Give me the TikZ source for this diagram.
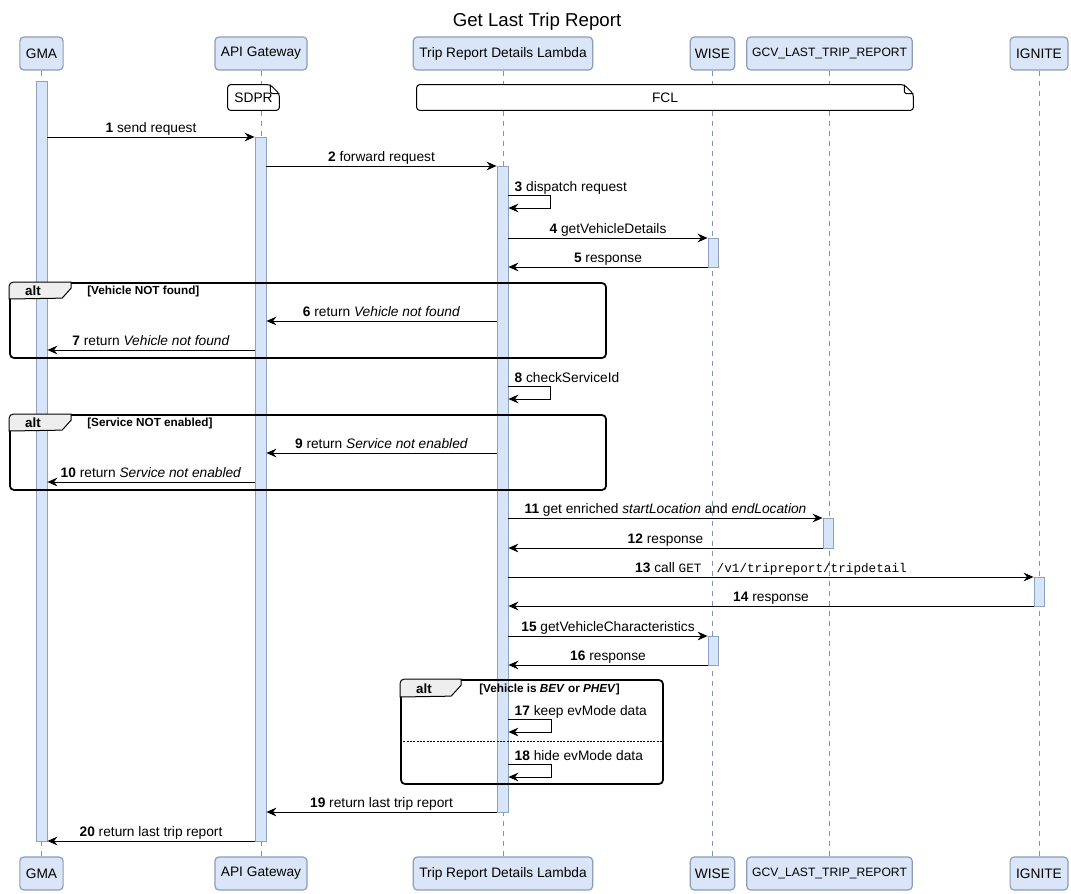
\documentclass[tikz,border=0pt]{standalone}
\usepackage{fontspec}
\setmainfont{Liberation Sans}
\newfontfamily\codefont{Liberation Mono}
\usetikzlibrary{arrows.meta,positioning,calc,fit}
\definecolor{PartFill}{HTML}{DAE6F8}
\definecolor{PartEdge}{HTML}{8C9DB5}
\definecolor{Life}{HTML}{7C96BA}
\definecolor{ActFill}{HTML}{D7E5F8}
\definecolor{ActEdge}{HTML}{8DA2C2}
\definecolor{TabFill}{HTML}{EEEEEE}

\begin{document}
\begin{tikzpicture}[
    x=0.75pt,y=-0.75pt,
    font=\fontsize{10.3}{12}\selectfont,
    part/.style={rounded corners=3pt,draw=PartEdge,fill=PartFill,line width=0.9pt,
      minimum height=24.75pt,inner xsep=4.5pt},
    narrow/.style={font=\fontsize{9.1}{11}\selectfont,inner xsep=4pt},
    life/.style={draw=Life,dash pattern=on 3.75pt off 3.75pt,line width=0.6pt},
    act/.style={draw=ActEdge,fill=ActFill,inner sep=0pt,line width=0.6pt},
    msg/.style={-{Stealth[length=7.5pt,width=6.5pt,inset=2.5pt]},line width=0.75pt},
    lbl/.style={anchor=base,yshift=3.5pt,inner sep=0pt},
    selflbl/.style={anchor=base west,xshift=4.5pt,yshift=3pt,inner sep=0pt},
    frame/.style={draw,rounded corners=3pt,line width=1.3pt,inner sep=0pt},
    tab/.style={draw,fill=TabFill,line width=0.75pt},
    alttag/.style={font=\fontsize{10}{11}\selectfont\bfseries},
    cond/.style={font=\fontsize{8.8}{10}\selectfont\bfseries,anchor=west,inner sep=0pt},
    notebox/.style={fill=white,inner sep=0pt},
    notepen/.style={draw,line width=0.75pt,rounded corners=2pt}
  ]
    \useasboundingbox (0,0) rectangle (1071,893);
    \node[font=\fontsize{14}{16}\selectfont] (title) at (537,22) {Get Last Trip Report};

    \node[part] (gmaTop) at (41.5,53.5) {GMA};
    \node[part] (apiTop) at (261,53.5) {API Gateway};
    \node[part] (lambdaTop) at (503,53.5) {Trip Report Details Lambda};
    \node[part,inner xsep=3.5pt] (wiseTop) at (712.5,53.5) {WISE};
    \node[part,narrow] (gcvTop) at (829.5,53.5) {GCV\_LAST\_TRIP\_REPORT};
    \node[part] (igniteTop) at (1039,53.5) {IGNITE};
    \node[part] (gmaBot) at (41.5,873.5) {GMA};
    \node[part] (apiBot) at (261,873.5) {API Gateway};
    \node[part] (lambdaBot) at (503,873.5) {Trip Report Details Lambda};
    \node[part,inner xsep=3.5pt] (wiseBot) at (712.5,873.5) {WISE};
    \node[part,narrow] (gcvBot) at (829.5,873.5) {GCV\_LAST\_TRIP\_REPORT};
    \node[part] (igniteBot) at (1039,873.5) {IGNITE};

    \draw[life] (gmaTop) -- (gmaBot);
    \draw[life] (apiTop) -- (apiBot);
    \draw[life] (lambdaTop) -- (lambdaBot);
    \draw[life] (wiseTop) -- (wiseBot);
    \draw[life] (gcvTop) -- (gcvBot);
    \draw[life] (igniteTop) -- (igniteBot);

    \node[notebox,minimum width=38.25pt,minimum height=18.75pt] (sdpr) at (253.5,97.5) {SDPR};
    \draw[notepen] ($(sdpr.north east)+(-9,0)$) -- (sdpr.north west) -- (sdpr.south west)
      -- (sdpr.south east) -- ($(sdpr.north east)+(0,9)$) -- cycle;
    \draw[notepen] ($(sdpr.north east)+(-9,0)$) -- ($(sdpr.north east)+(-9,9)$)
      -- ($(sdpr.north east)+(0,9)$);
    \node[notebox,minimum width=372pt,minimum height=18.75pt] (fcl) at (665,97.5) {FCL};
    \draw[notepen] ($(fcl.north east)+(-9,0)$) -- (fcl.north west) -- (fcl.south west)
      -- (fcl.south east) -- ($(fcl.north east)+(0,9)$) -- cycle;
    \draw[notepen] ($(fcl.north east)+(-9,0)$) -- ($(fcl.north east)+(-9,9)$)
      -- ($(fcl.north east)+(0,9)$);

    \node[act,fit={(36,81) (47,841)}] (aGma) {};
    \node[act,fit={(255,137) (266,841)}] (aApi) {};
    \node[act,fit={(497,166) (508,812)}] (aLambda) {};
    \node[act,fit={(708,238) (718,267)}] (aWise) {};
    \node[act,fit={(823,518) (833,548)}] (aGcv) {};
    \node[act,fit={(1034,577) (1044,606)}] (aIgnite) {};
    \node[act,fit={(708,636) (718,665)}] (aWise2) {};

    \draw[msg] (aGma.east |- 0,137) -- node[lbl] {\textbf{1} send request} (aApi.west |- 0,137);
    \draw[msg] (aApi.east |- 0,166) -- node[lbl] {\textbf{2} forward request} (aLambda.west |- 0,166);
    \draw[msg] (aLambda.east |- 0,195) -- ++(42,0) -- ++(0,13) -- (aLambda.east |- 0,208);
    \node[selflbl] (m3) at (aLambda.east |- 0,195) {\textbf{3} dispatch request};
    \draw[msg] (aLambda.east |- 0,238) -- node[lbl] {\textbf{4} getVehicleDetails} (aWise.west |- 0,238);
    \draw[msg] (aWise.west |- 0,267) -- node[lbl] {\textbf{5} response} (aLambda.east |- 0,267);
    \draw[msg] (aLambda.west |- 0,321) -- node[lbl] {\textbf{6} return \textit{Vehicle not found}} (aApi.east |- 0,321);
    \draw[msg] (aApi.west |- 0,350) -- node[lbl] {\textbf{7} return \textit{Vehicle not found}} (aGma.east |- 0,350);
    \draw[msg] (aLambda.east |- 0,386) -- ++(42,0) -- ++(0,13) -- (aLambda.east |- 0,399);
    \node[selflbl] (m8) at (aLambda.east |- 0,386) {\textbf{8} checkServiceId};
    \draw[msg] (aLambda.west |- 0,453) -- node[lbl] {\textbf{9} return \textit{Service not enabled}} (aApi.east |- 0,453);
    \draw[msg] (aApi.west |- 0,482) -- node[lbl] {\textbf{10} return \textit{Service not enabled}} (aGma.east |- 0,482);
    \draw[msg] (aLambda.east |- 0,518) -- node[lbl] {\textbf{11} get enriched \textit{startLocation} and \textit{endLocation}} (aGcv.west |- 0,518);
    \draw[msg] (aGcv.west |- 0,548) -- node[lbl] {\textbf{12} response} (aLambda.east |- 0,548);
    \draw[msg] (aLambda.east |- 0,577) -- node[lbl] {\textbf{13} call {\codefont\fontsize{9.5}{11}\selectfont GET\ \ /v1/tripreport/tripdetail}} (aIgnite.west |- 0,577);
    \draw[msg] (aIgnite.west |- 0,606) -- node[lbl] {\textbf{14} response} (aLambda.east |- 0,606);
    \draw[msg] (aLambda.east |- 0,636) -- node[lbl] {\textbf{15} getVehicleCharacteristics} (aWise2.west |- 0,636);
    \draw[msg] (aWise2.west |- 0,665) -- node[lbl] {\textbf{16} response} (aLambda.east |- 0,665);
    \draw[msg] (aLambda.east |- 0,719) -- ++(43,0) -- ++(0,13) -- (aLambda.east |- 0,732);
    \node[selflbl] (m17) at (aLambda.east |- 0,719) {\textbf{17} keep evMode data};
    \draw[msg] (aLambda.east |- 0,764) -- ++(43,0) -- ++(0,13) -- (aLambda.east |- 0,777);
    \node[selflbl] (m18) at (aLambda.east |- 0,764) {\textbf{18} hide evMode data};
    \draw[msg] (aLambda.west |- 0,812) -- node[lbl] {\textbf{19} return last trip report} (aApi.east |- 0,812);
    \draw[msg] (aApi.west |- 0,841) -- node[lbl] {\textbf{20} return last trip report} (aGma.east |- 0,841);

    \node[frame,fit={(10,283) (606,358)}] (alt1) {};
    \draw[tab] (alt1.west |- 0,299) [rounded corners=3pt] -- (alt1.north west) [sharp corners]
      -- ++(62,0) -- ++(0,6) -- ++(-9,10) -- cycle;
    \node[alttag] (alt1tag) at (33,291) {alt};
    \node[cond] (alt1cond) at (87,291) {[Vehicle NOT found]};

    \node[frame,fit={(10,415) (606,490)}] (alt2) {};
    \draw[tab] (alt2.west |- 0,431) [rounded corners=3pt] -- (alt2.north west) [sharp corners]
      -- ++(62,0) -- ++(0,6) -- ++(-9,10) -- cycle;
    \node[alttag] (alt2tag) at (33,423) {alt};
    \node[cond] (alt2cond) at (87,423) {[Service NOT enabled]};

    \node[frame,fit={(401,680) (663,784)}] (alt3) {};
    \draw[tab] (alt3.west |- 0,697) [rounded corners=3pt] -- (alt3.north west) [sharp corners]
      -- ++(61,0) -- ++(0,6) -- ++(-10,11) -- cycle;
    \node[alttag] (alt3tag) at (424,689) {alt};
    \node[cond] (alt3cond) at (479,689) {[Vehicle is \textit{BEV} or \textit{PHEV}]};
    \draw[dashed,line width=0.6pt,dash pattern=on 1.5pt off 1pt] (alt3.west |- 0,741) -- (alt3.east |- 0,741);
  \end{tikzpicture}
\end{document}
